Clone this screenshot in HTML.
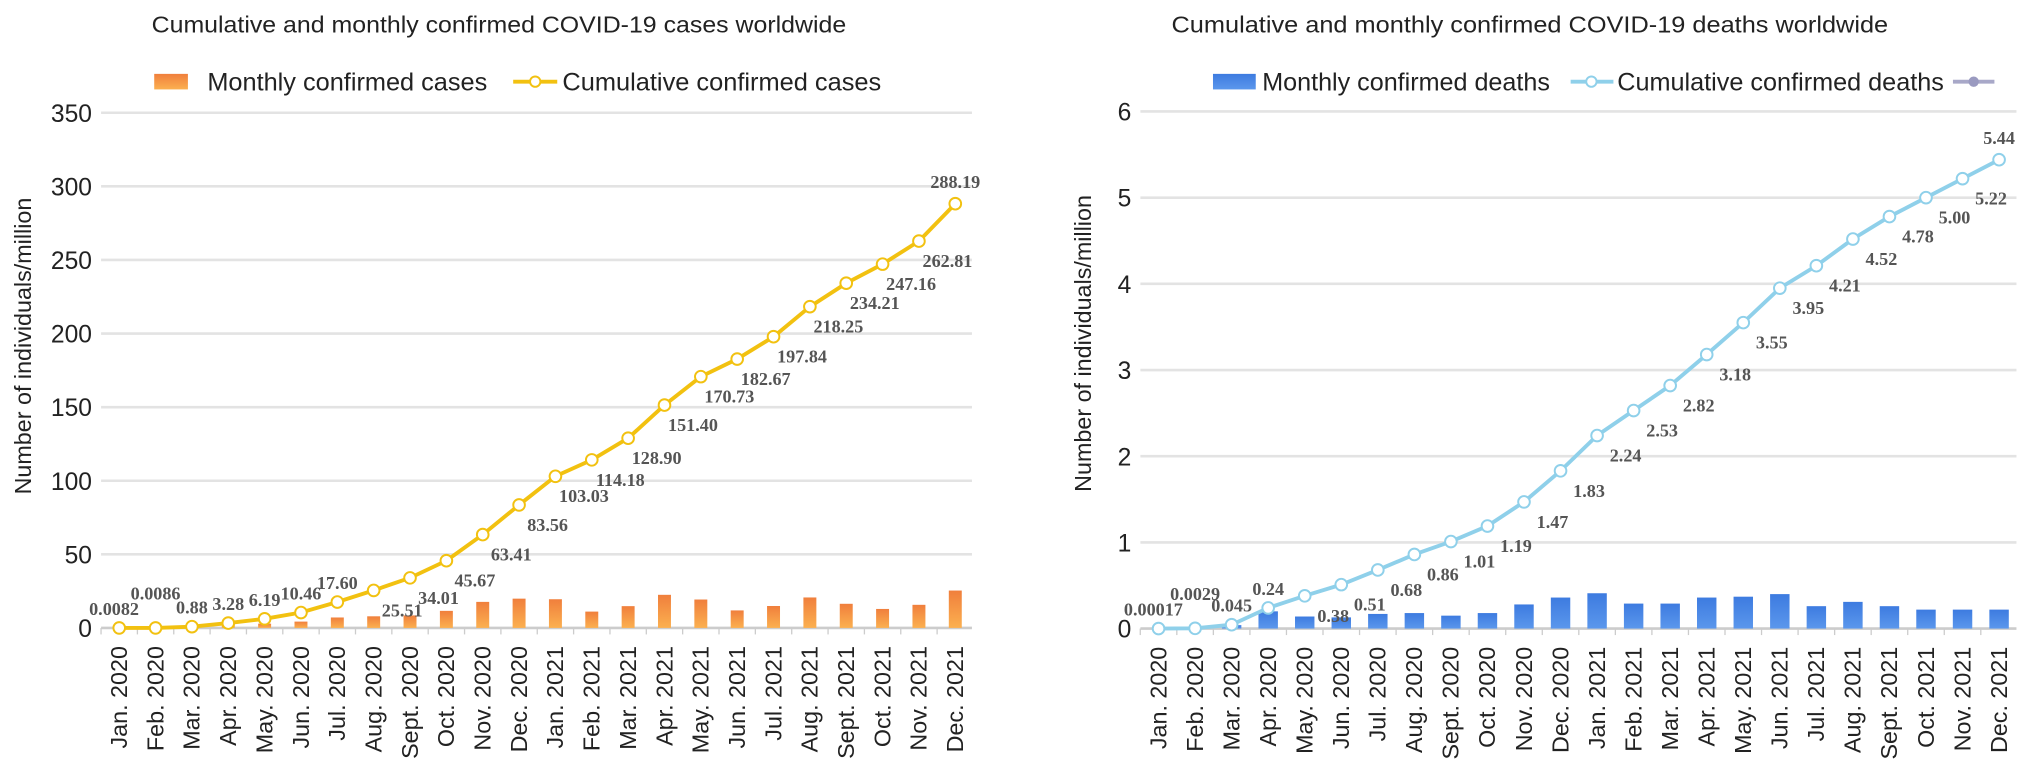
<!DOCTYPE html>
<html><head><meta charset="utf-8"><style>
body{margin:0;background:#fff;}
svg{display:block;font-family:"Liberation Sans",sans-serif;}
.lbl{font-family:"Liberation Serif",serif;font-weight:bold;font-size:14px;fill:#555;}
</style></head><body>
<svg id="svg" width="2032" height="781" viewBox="0 0 1568 602.6" preserveAspectRatio="none">
<defs>
<linearGradient id="og" x1="0" y1="0" x2="0" y2="1"><stop offset="0" stop-color="#f07f3c"/><stop offset="1" stop-color="#fbb050"/></linearGradient>
<linearGradient id="bg" x1="0" y1="0" x2="0" y2="1"><stop offset="0" stop-color="#3d7be0"/><stop offset="1" stop-color="#5b97ec"/></linearGradient>
</defs>
<text x="117" y="25" font-size="18" fill="#222" textLength="536" lengthAdjust="spacingAndGlyphs">Cumulative and monthly confirmed COVID-19 cases worldwide</text>
<text x="904" y="25" font-size="18" fill="#222" textLength="553" lengthAdjust="spacingAndGlyphs">Cumulative and monthly confirmed COVID-19 deaths worldwide</text>
<g>
<rect x="119" y="57" width="26" height="12" fill="url(#og)"/>
<text x="160" y="70" font-size="19" fill="#222" textLength="216" lengthAdjust="spacingAndGlyphs">Monthly confirmed cases</text>
<line x1="396" y1="63" x2="430" y2="63" stroke="#f2c110" stroke-width="3"/>
<circle cx="413" cy="63" r="4" fill="#fff" stroke="#f2c110" stroke-width="1.5"/>
<text x="434" y="70" font-size="19" fill="#222" textLength="246" lengthAdjust="spacingAndGlyphs">Cumulative confirmed cases</text>
</g>
<g>
<rect x="936" y="57" width="33" height="12" fill="url(#bg)"/>
<text x="974" y="70" font-size="19" fill="#222" textLength="222" lengthAdjust="spacingAndGlyphs">Monthly confirmed deaths</text>
<line x1="1212" y1="63" x2="1245" y2="63" stroke="#8fd0ea" stroke-width="3"/>
<circle cx="1228" cy="63" r="4" fill="#fff" stroke="#8fd0ea" stroke-width="1.5"/>
<text x="1248" y="70" font-size="19" fill="#222" textLength="252" lengthAdjust="spacingAndGlyphs">Cumulative confirmed deaths</text>
<line x1="1507" y1="63" x2="1539" y2="63" stroke="#a8a8c8" stroke-width="3"/>
<circle cx="1523" cy="63" r="4" fill="#9a9ac0"/>
</g>
<text transform="translate(24,267) rotate(-90)" font-size="18" fill="#222" text-anchor="middle">Number of individuals/million</text>
<text transform="translate(842,265) rotate(-90)" font-size="18" fill="#222" text-anchor="middle">Number of individuals/million</text>
<g id="g1"></g><g id="g2"></g>
</svg>
<script>
const months = ["Jan. 2020","Feb. 2020","Mar. 2020","Apr. 2020","May. 2020","Jun. 2020","Jul. 2020","Aug. 2020","Sept. 2020","Oct. 2020","Nov. 2020","Dec. 2020","Jan. 2021","Feb. 2021","Mar. 2021","Apr. 2021","May. 2021","Jun. 2021","Jul. 2021","Aug. 2021","Sept. 2021","Oct. 2021","Nov. 2021","Dec. 2021"];
const monthlyCases = [0,0,0.9,2.4,2.9,4.3,7.1,7.9,8.5,11.6,17.7,19.9,19.5,11.1,14.8,22.5,19.3,11.9,14.9,20.7,16.4,12.9,15.7,25.4];
const cumulativeCases = [0.0082,0.0086,0.88,3.28,6.19,10.46,17.60,25.51,34.01,45.67,63.41,83.56,103.03,114.18,128.90,151.40,170.73,182.67,197.84,218.25,234.21,247.16,262.81,288.19];
const cumulativeCasesLabels = ["0.0082","0.0086","0.88","3.28","6.19","10.46","17.60","25.51","34.01","45.67","63.41","83.56","103.03","114.18","128.90","151.40","170.73","182.67","197.84","218.25","234.21","247.16","262.81","288.19"];
const casesTicks = [0,50,100,150,200,250,300,350];
const monthlyDeaths = [0,0,0.04,0.2,0.14,0.13,0.17,0.18,0.15,0.18,0.28,0.36,0.41,0.29,0.29,0.36,0.37,0.40,0.26,0.31,0.26,0.22,0.22,0.22];
const cumulativeDeaths = [0.00017,0.0029,0.045,0.24,0.38,0.51,0.68,0.86,1.01,1.19,1.47,1.83,2.24,2.53,2.82,3.18,3.55,3.95,4.21,4.52,4.78,5.00,5.22,5.44];
const cumulativeDeathsLabels = ["0.00017","0.0029","0.045","0.24","0.38","0.51","0.68","0.86","1.01","1.19","1.47","1.83","2.24","2.53","2.82","3.18","3.55","3.95","4.21","4.52","4.78","5.00","5.22","5.44"];
const deathsTicks = [0,1,2,3,4,5,6];

const NS="http://www.w3.org/2000/svg";
function mk(p,t,a){const e=document.createElementNS(NS,t);for(const k in a)e.setAttribute(k,a[k]);p.appendChild(e);return e;}
function chart(g,o){
  const y=v=>o.y0-(v-o.min)/(o.max-o.min)*(o.y0-o.y1);
  const x=i=>o.x0+i*o.step;
  o.ticks.forEach(t=>{
    const l=mk(g,'line',{x1:o.gx0,x2:o.gx1,y1:y(t),y2:y(t),stroke:t===o.min?'#ccc':'#e3e3e3','stroke-width':2});
    
    
    const tx=mk(g,'text',{x:o.gx0-7,y:y(t)+7,'font-size':19,fill:'#222','text-anchor':'end'});tx.textContent=t;
    
    
  });
  months.forEach((m,i)=>{
    mk(g,'line',{x1:x(i)-o.step/2,x2:x(i)-o.step/2,y1:o.y0,y2:o.y0+5,stroke:'#ccc'});
    const tx=mk(g,'text',{transform:`translate(${x(i)+6},${o.y0+14}) rotate(-90)`,'font-size':18,fill:'#222','text-anchor':'end'});tx.textContent=m;
    
    
  });
  o.bars.forEach((v,i)=>{
    if(v<=0)return;
    const r=mk(g,'rect',{x:x(i)-o.bw/2,y:y(v),width:o.bw,height:o.y0-y(v),fill:o.bfill});
    
    
  });
  const pl=mk(g,'polyline',{points:o.line.map((v,i)=>x(i)+','+y(v)).join(' '),fill:'none',stroke:o.lc,'stroke-width':3});
  
  
  o.line.forEach((v,i)=>{
    const c=mk(g,'circle',{cx:x(i),cy:y(v),r:4.5,fill:'#fff',stroke:o.lc,'stroke-width':1.5});
    
    
    let lx,ly;
    if(i<o.above){lx=x(i)+(i===0?-4:0);ly=y(v)-(i===1?22:10);}
    else if(i===o.line.length-1){lx=x(i);ly=y(v)-12;}
    else {lx=x(i)+22;ly=y(v)+20;}
    const t=mk(g,'text',{x:lx,y:ly,'class':'lbl','text-anchor':'middle'});t.textContent=o.labels[i];
    
    
  });
}
chart(document.getElementById('g1'),{min:0,max:350,y0:484.5,y1:87,x0:92,step:28.05,gx0:78,gx1:750,ticks:casesTicks,bars:monthlyCases,line:cumulativeCases,labels:cumulativeCasesLabels,bw:10,bfill:'url(#og)',lc:'#f2c110',above:7});
chart(document.getElementById('g2'),{min:0,max:6,y0:485,y1:86,x0:894,step:28.2,gx0:880,gx1:1556,ticks:deathsTicks,bars:monthlyDeaths,line:cumulativeDeaths,labels:cumulativeDeathsLabels,bw:15,bfill:'url(#bg)',lc:'#8fd0ea',above:4});
</script>
</body></html>
